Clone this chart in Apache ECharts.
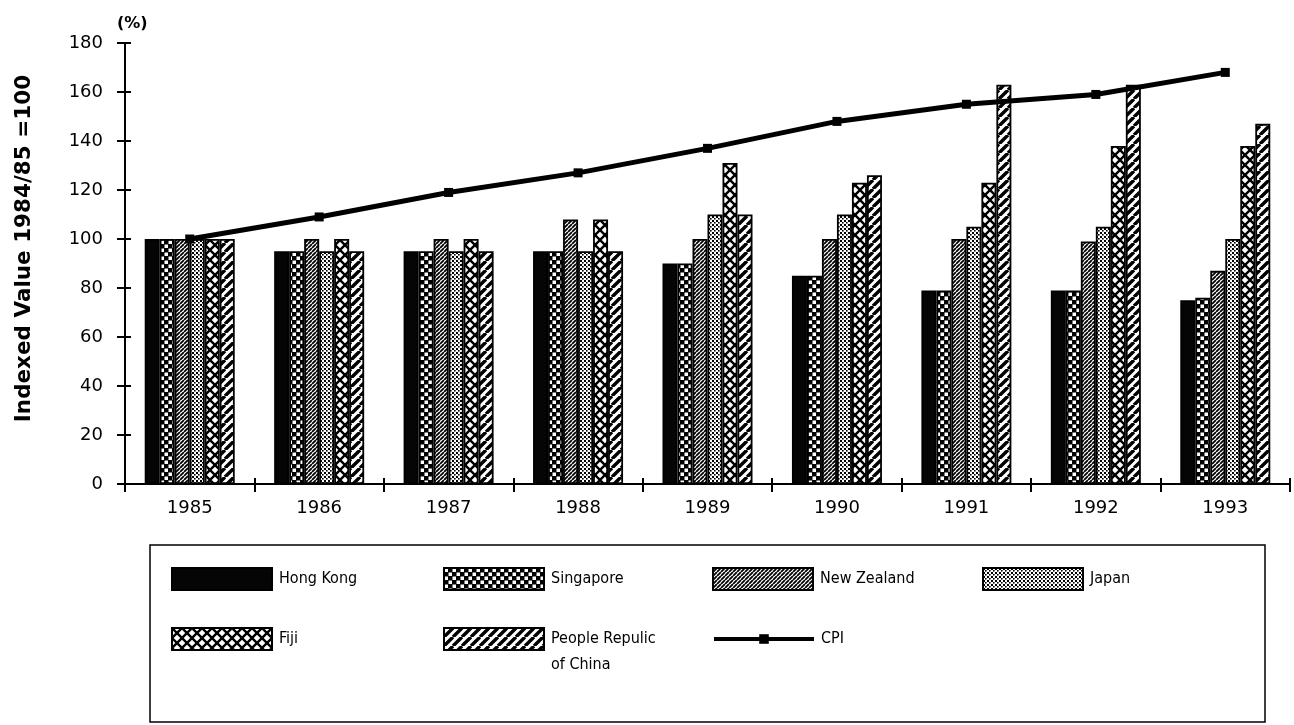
<!DOCTYPE html>
<html>
<head>
<meta charset="utf-8">
<script src="https://cdn.jsdelivr.net/npm/echarts@6/dist/echarts.min.js"></script>
<style>
  html, body { margin: 0; padding: 0; background: #fff; }
  #chart { width: 1294px; height: 725px; }
</style>
</head>
<body>
<div id="chart"></div>
<script>
// Indexed values, 1984/85 = 100
const years = ['1985', '1986', '1987', '1988', '1989', '1990', '1991', '1992', '1993'];
const hongKong   = [100, 95, 95, 95, 90, 85, 79, 79, 75];
const singapore  = [100, 95, 95, 95, 90, 85, 79, 79, 76];
const newZealand = [100, 100, 100, 108, 100, 100, 100, 99, 87];
const japan      = [100, 95, 95, 95, 110, 110, 105, 105, 100];
const fiji       = [100, 100, 100, 108, 131, 123, 123, 138, 138];
const china      = [100, 95, 95, 95, 110, 126, 163, 163, 147];
const cpi        = [100, 109, 119, 127, 137, 148, 155, 159, 168];

const yTicks = { min: 0, max: 180, interval: 20 };

// ---- monochrome fill patterns ----
function tile(size, draw, bg) {
  const c = document.createElement('canvas');
  c.width = size; c.height = size;
  const ctx = c.getContext('2d');
  ctx.fillStyle = bg || '#fff';
  ctx.fillRect(0, 0, size, size);
  ctx.fillStyle = '#000';
  ctx.strokeStyle = '#000';
  draw(ctx, size);
  return { image: c, repeat: 'repeat' };
}
function diag(ctx, s, w) {
  ctx.lineWidth = w;
  ctx.beginPath();
  for (let k = -1; k <= 1; k++) {
    ctx.moveTo(k * s, s); ctx.lineTo(k * s + s, 0);
  }
  ctx.stroke();
}
const patterns = {
  solid: '#050505',
  checker: tile(8, (ctx) => {
    ctx.fillRect(0, 0, 8, 8);
    ctx.fillStyle = '#fff';
    ctx.fillRect(0.5, 0.5, 3.5, 3.5);
    ctx.fillRect(4.5, 4.5, 3.5, 3.5);
  }),
  fineHatch: tile(4, (ctx, s) => diag(ctx, s, 1.8)),
  stipple: tile(4, (ctx) => {
    ctx.fillRect(0, 0, 2, 2);
    ctx.fillRect(2, 2, 1.6, 1.6);
  }),
  crossHatch: tile(10, (ctx, s) => {
    diag(ctx, s, 2.4);
    ctx.beginPath();
    for (let k = -1; k <= 1; k++) {
      ctx.moveTo(k * s, 0); ctx.lineTo(k * s + s, s);
    }
    ctx.stroke();
  }),
  wideHatch: tile(9, (ctx, s) => diag(ctx, s, 3.4))
};

const barNames = ['Hong Kong', 'Singapore', 'New Zealand', 'Japan', 'Fiji', 'People Repulic of China'];
const barData = [hongKong, singapore, newZealand, japan, fiji, china];
const barFills = [patterns.solid, patterns.checker, patterns.fineHatch, patterns.stipple, patterns.crossHatch, patterns.wideHatch];

const series = barNames.map((name, i) => ({
  name: name,
  type: 'bar',
  data: barData[i],
  barWidth: 15,
  barGap: '0%',
  itemStyle: { color: barFills[i], borderColor: '#000', borderWidth: 1.8 },
  emphasis: { disabled: true },
  z: 2
}));
series.push({
  name: 'CPI',
  type: 'line',
  data: cpi,
  symbol: 'rect',
  symbolSize: 9,
  lineStyle: { color: '#000', width: 5 },
  itemStyle: { color: '#000' },
  emphasis: { disabled: true },
  z: 5
});

const FONT = "'DejaVu Sans', sans-serif";
const LEGEND_FONT = "'Liberation Sans Narrow', 'DejaVu Sans Condensed', 'Liberation Sans', sans-serif";

// one legend block per entry, laid out in two rows of the framed key
const legendSlots = [
  { name: 'Hong Kong', left: 171, top: 566 },
  { name: 'Singapore', left: 443, top: 566 },
  { name: 'New Zealand', left: 712, top: 566 },
  { name: 'Japan', left: 982, top: 566 },
  { name: 'Fiji', left: 171, top: 626 },
  { name: 'People Repulic of China', left: 443, top: 626 },
  { name: 'CPI', left: 712, top: 626 }
];
const legends = legendSlots.map((s) => {
  const multi = s.name === 'People Repulic of China';
  const isLine = s.name === 'CPI';
  return {
    data: [s.name],
    left: s.left,
    // the two-line label gets a leading blank line so its first line sits level with the swatch
    top: multi ? s.top - 26 : s.top,
    orient: 'horizontal',
    padding: 0,
    itemWidth: 100,
    itemHeight: isLine ? 12 : 22,
    itemGap: 0,
    icon: isLine ? undefined : 'rect',
    lineStyle: isLine ? { width: 4, color: '#000' } : undefined,
    selectedMode: false,
    formatter: multi ? () => ' \nPeople Repulic\nof China' : undefined,
    textStyle: {
      fontFamily: LEGEND_FONT,
      fontSize: 16,
      color: '#000',
      lineHeight: 26,
      padding: [0, 0, 0, 2]
    }
  };
});

const chart = echarts.init(document.getElementById('chart'), null, { renderer: 'canvas' });
chart.setOption({
  animation: false,
  backgroundColor: '#fff',
  grid: { left: 125, right: 4, top: 43, bottom: 241, containLabel: false },
  xAxis: [
    {
      type: 'category',
      data: years,
      boundaryGap: true,
      axisLine: { lineStyle: { color: '#000', width: 2 } },
      axisTick: { show: true, inside: false, length: 8, lineStyle: { color: '#000', width: 2 } },
      axisLabel: { color: '#000', fontFamily: FONT, fontSize: 18, margin: 15 },
      splitLine: { show: false }
    },
    {
      type: 'category',
      data: years,
      position: 'bottom',
      boundaryGap: true,
      axisLine: { show: false },
      axisTick: { show: true, inside: true, length: 6, lineStyle: { color: '#000', width: 2 } },
      axisLabel: { show: false },
      splitLine: { show: false }
    }
  ],
  yAxis: [
    {
      type: 'value',
      min: yTicks.min, max: yTicks.max, interval: yTicks.interval,
      name: 'Indexed Value 1984/85 =100',
      nameLocation: 'middle',
      nameRotate: 90,
      nameGap: 90,
      nameTextStyle: { fontFamily: FONT, fontWeight: 'bold', fontSize: 21.5, color: '#000', padding: [0, 0, 0, 30] },
      axisLine: { show: true, lineStyle: { color: '#000', width: 2 } },
      axisTick: { show: true, inside: false, length: 8, lineStyle: { color: '#000', width: 2 } },
      axisLabel: { color: '#000', fontFamily: FONT, fontSize: 18, margin: 22 },
      splitLine: { show: false }
    },
    {
      type: 'value',
      position: 'left',
      min: yTicks.min, max: yTicks.max, interval: yTicks.interval,
      name: '(%)',
      nameLocation: 'end',
      nameGap: 11,
      nameTextStyle: { fontFamily: FONT, fontWeight: 'bold', fontSize: 16, color: '#000', align: 'left', padding: [0, 0, 0, -8] },
      axisLine: { show: false },
      axisTick: { show: true, inside: true, length: 6, lineStyle: { color: '#000', width: 2 } },
      axisLabel: { show: false },
      splitLine: { show: false }
    }
  ],
  legend: legends,
  series: series,
  graphic: [
    {
      type: 'rect',
      shape: { x: 150, y: 545, width: 1115, height: 177 },
      style: { fill: 'none', stroke: '#000', lineWidth: 1.5 },
      silent: true
    }
  ]
});
</script>
</body>
</html>
